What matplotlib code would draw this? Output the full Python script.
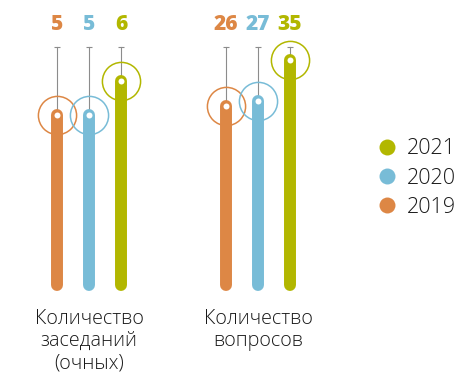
import matplotlib
matplotlib.use("Agg")
import matplotlib.pyplot as plt
from matplotlib.lines import Line2D

# Data
years = ['2019', '2020', '2021']
colors = ['#DD8745', '#78BCD7', '#B2B700']
categories = ['Количество\nзаседаний\n(очных)', 'Количество\nвопросов']
meetings = [5, 5, 6]
questions = [26, 27, 35]
group_values = [meetings, questions]
# each group has its own vertical scale
group_ylims = [(0, 7.0), (-9, 37.5)]

plt.rcParams['font.family'] = ['Open Sans', 'DejaVu Sans']

W, H = 463, 374
fig = plt.figure(figsize=(W / 100, H / 100), dpi=100)

axes_pos = [0, 89 / H, 1, 238 / H]
xlim = (-89 / 169, (W - 89) / 169)
offset = 32 / 169
grey = '#8C8C8C'
text_color = '#1A1A1A'

for gi, (vals, ylim) in enumerate(zip(group_values, group_ylims)):
    ax = fig.add_axes(axes_pos)
    ax.set_xlim(xlim)
    ax.set_ylim(ylim)
    ax.axis('off')
    top = ylim[1]
    for j, (v, c) in enumerate(zip(vals, colors)):
        x = gi + (j - 1) * offset
        # whisker up to the scale top
        ax.plot([x, x], [v, top], color=grey, lw=0.8, zorder=1, clip_on=False)
        ax.plot([x], [top], marker='_', ms=4.5, mew=0.8, color=grey,
                zorder=1, clip_on=False)
        # ring around the bar end
        ax.plot([x], [v], marker='o', ms=27.5, mfc='none', mec=c, mew=1.1,
                zorder=2, clip_on=False)
        # rounded bar
        ax.plot([x, x], [ylim[0], v], color=c, lw=8.6, solid_capstyle='round',
                zorder=3, clip_on=False)
        # white dot at the value
        ax.plot([x], [v], marker='o', ms=4.3, mfc='white', mec='none',
                zorder=4, clip_on=False)
        ax.annotate(str(v), xy=(x, top), xytext=(0, 16.5),
                    textcoords='offset points', ha='center', va='center',
                    color=c, fontsize=15, fontweight='heavy')
    ax.annotate(categories[gi], xy=(gi, ylim[0]), xytext=(0, -17),
                textcoords='offset points', ha='center', va='top',
                fontsize=14.2, fontweight='light', color=text_color,
                linespacing=1.17)

handles = [Line2D([], [], marker='o', ls='none', ms=11.5, mfc=c, mec='none')
           for c in colors[::-1]]
fig.legend(handles, years[::-1], loc='center left',
           bbox_to_anchor=(376 / W, 196 / H), frameon=False,
           handlelength=1.0, handletextpad=0.45, labelspacing=0.38,
           borderaxespad=0, borderpad=0,
           prop={'size': 15.5, 'weight': 'light'}, labelcolor=text_color)

fig.savefig('out.png', dpi=100)
